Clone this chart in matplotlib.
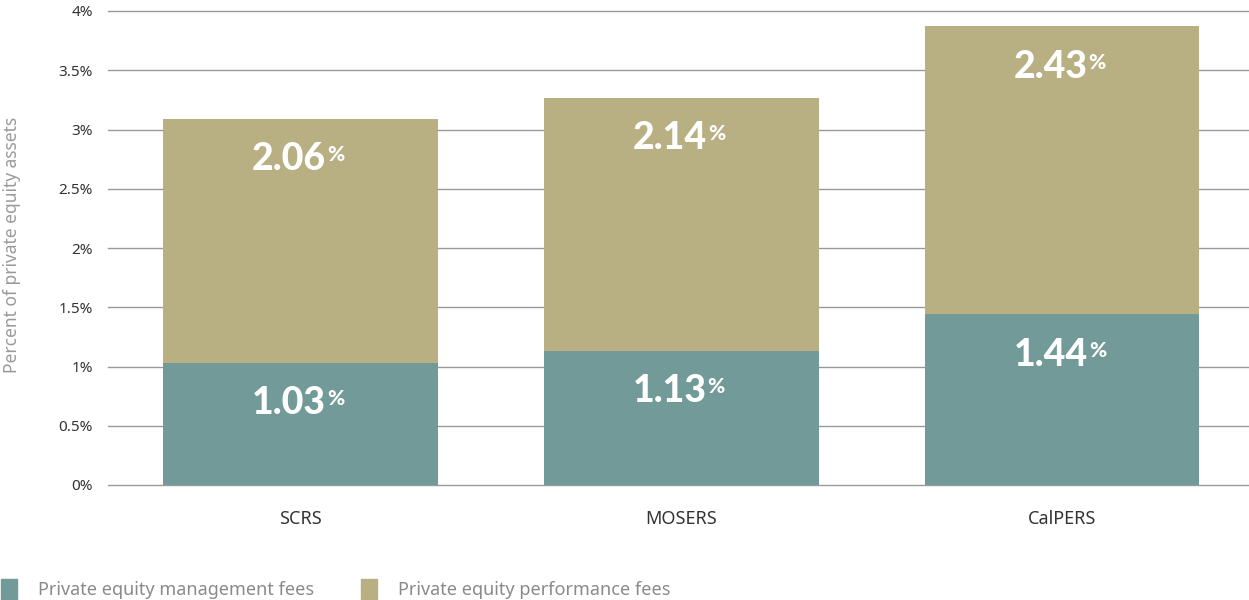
import matplotlib
matplotlib.use("Agg")
import matplotlib.pyplot as plt
from matplotlib.patches import Patch
import numpy as np

categories = ["SCRS", "MOSERS", "CalPERS"]
management_fees = [1.03, 1.13, 1.44]
performance_fees = [2.06, 2.14, 2.43]
yticks = [0, 0.5, 1, 1.5, 2, 2.5, 3, 3.5, 4]
ytick_labels = ["0%", "0.5%", "1%", "1.5%", "2%", "2.5%", "3%", "3.5%", "4%"]
series_names = ["Private equity management fees", "Private equity performance fees"]

teal = "#719A98"
tan = "#B8AF82"
FONT = "Lato"
TFONT = "Noto Sans"

fig = plt.figure(figsize=(12.49, 6.0), dpi=100)
ax = fig.add_axes([108/1249, 1-485/600, (1249-108)/1249, (485-11)/600])

x = np.arange(len(categories))
ax.bar(x, management_fees, width=0.72, color=teal, zorder=3)
ax.bar(x, performance_fees, width=0.72, bottom=management_fees, color=tan, zorder=3)

ax.set_xlim(-0.505, 2.49)
ax.set_ylim(0, 4)
ax.set_yticks(yticks)
ax.set_yticklabels(ytick_labels, family=TFONT, fontweight="light", fontsize=11, color="#333333")
ax.set_xticks(x)
ax.set_xticklabels(categories, family=TFONT, fontweight="light", fontsize=13, color="#333333")
ax.tick_params(axis="y", length=0, pad=11)
ax.tick_params(axis="x", length=0, pad=18)
ax.yaxis.grid(True, color="#999999", lw=1, zorder=0)
for gl in ax.get_ygridlines():
    gl.set_clip_on(False)
for s in ax.spines.values():
    s.set_visible(False)

fig.text(12/1249, 1-245/600, "Percent of private equity assets", rotation=90,
         ha="center", va="center", family=TFONT, fontweight="light", fontsize=12.5, color="#9a9a9a")

def label(xc, ytop, val):
    t = ax.annotate(f"{val:.2f}", xy=(xc, ytop), xytext=(-8, -29), textcoords="offset points",
                    ha="center", va="center", color="white", family=FONT,
                    fontweight="black", fontsize=27, zorder=5)
    return t

fig.canvas.draw()
r = fig.canvas.get_renderer()
for i in range(len(categories)):
    for ytop, val in [(management_fees[i], management_fees[i]),
                      (management_fees[i] + performance_fees[i], performance_fees[i])]:
        t = label(x[i], ytop, val)
        bb = t.get_window_extent(r)
        xd, yd = bb.x1 + 0.5, bb.y1 - 3
        fig.text(xd / fig.dpi / 12.49, yd / fig.dpi / 6.0, "%", ha="left", va="top",
                 color="white", family=FONT, fontweight="black", fontsize=15, zorder=6)

handles = [Patch(color=teal), Patch(color=tan)]
fig.legend(handles, series_names, loc="lower left", bbox_to_anchor=(-0.012, -0.025),
           ncol=2, frameon=False, handlelength=0.85, handleheight=1.3, handletextpad=1.2,
           columnspacing=2.6, prop={"family": TFONT, "weight": "light", "size": 13},
           labelcolor="#8a8a8a")

fig.savefig("out.png", dpi=100)
